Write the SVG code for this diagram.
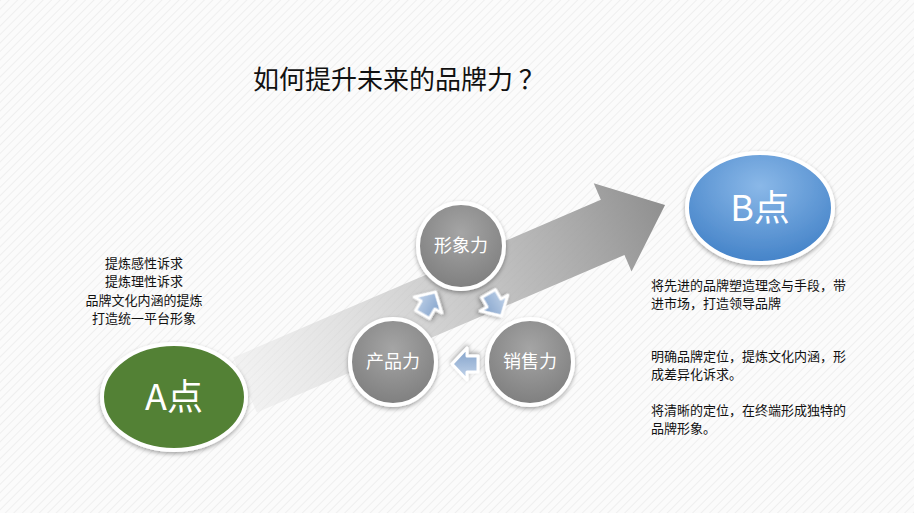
<svg xmlns="http://www.w3.org/2000/svg" width="914" height="513" viewBox="0 0 914 513">
<defs>
<pattern id="bg" width="6" height="6" patternUnits="userSpaceOnUse" patternTransform="rotate(-45)"><rect width="6" height="6" fill="#fbfbfb"/><rect width="6" height="1" fill="#efefef"/></pattern>
<linearGradient id="arr" x1="0" y1="0" x2="1" y2="0"><stop offset="0" stop-color="#e8e8e8" stop-opacity="0.5"/><stop offset="1" stop-color="#8f8f8f"/></linearGradient>
<radialGradient id="gc" cx="0.5" cy="0.35" r="0.7"><stop offset="0" stop-color="#a5a5a5"/><stop offset="1" stop-color="#7c7c7c"/></radialGradient>
<radialGradient id="bc" cx="0.5" cy="0.3" r="0.75"><stop offset="0" stop-color="#8ab8e8"/><stop offset="1" stop-color="#3f7fc6"/></radialGradient>
<linearGradient id="sa" x1="0" y1="0" x2="0" y2="1"><stop offset="0" stop-color="#c5d6ec"/><stop offset="1" stop-color="#7f9fc8"/></linearGradient>
<filter id="sh" x="-20%" y="-20%" width="140%" height="140%"><feDropShadow dx="0" dy="2" stdDeviation="2" flood-opacity="0.35"/></filter>
<path id="small" d="M-11,-8 L0,-8 L0,-16 L15,0 L0,16 L0,8 L-11,8 Z" fill="url(#sa)" stroke="#fff" stroke-width="3" stroke-linejoin="round"/>
</defs>
<style>
.t{font-family:"Noto Sans CJK SC","Liberation Sans",sans-serif;}
.c{fill:url(#gc);stroke:#fff;stroke-width:4;filter:url(#sh)}
.cl{fill:#fff;font-size:18px;text-anchor:middle}
.d{font-size:13px;fill:#111}
</style>
<rect width="914" height="513" fill="url(#bg)"/>
<text class="t" x="253" y="89" font-size="26" fill="#111">如何提升未来的品牌力 ？</text>
<g id="connectors">
<polygon transform="translate(245,385) rotate(-23.2)" points="0,-30 400,-30 400,-48 457,0 400,48 400,30 0,30" fill="url(#arr)"/>
<use href="#small" transform="translate(428,305) rotate(-60)" filter="url(#sh)"/>
<use href="#small" transform="translate(494,303) rotate(60)" filter="url(#sh)"/>
<use href="#small" transform="translate(467,364) rotate(180)" filter="url(#sh)"/>
</g>
<g id="nodeA"><ellipse cx="174" cy="397" rx="72" ry="53" fill="#538135" stroke="#fff" stroke-width="4" filter="url(#sh)"/><text class="t" x="174" y="410" font-size="36" fill="#fff" text-anchor="middle">A点</text></g>
<g id="nodeB"><ellipse cx="760" cy="208" rx="73" ry="55" fill="url(#bc)" stroke="#fff" stroke-width="4" filter="url(#sh)"/><text class="t" x="760" y="221" font-size="36" fill="#fff" text-anchor="middle">B点</text></g>
<g id="n1"><circle class="c" cx="461" cy="246" r="43"/><text class="t cl" x="461" y="252">形象力</text></g>
<g id="n2"><circle class="c" cx="393" cy="362" r="43"/><text class="t cl" x="393" y="368">产品力</text></g>
<g id="n3"><circle class="c" cx="530" cy="362" r="43"/><text class="t cl" x="530" y="368">销售力</text></g>
<g id="leftText" class="t d" text-anchor="middle">
<text x="144" y="268">提炼感性诉求</text><text x="144" y="286">提炼理性诉求</text><text x="144" y="305">品牌文化内涵的提炼</text><text x="144" y="323">打造统一平台形象</text>
</g>
<g id="rightText" class="t d">
<text x="651" y="290">将先进的品牌塑造理念与手段，带</text><text x="651" y="308">进市场，打造领导品牌</text>
<text x="651" y="361">明确品牌定位，提炼文化内涵，形</text><text x="651" y="379">成差异化诉求。</text>
<text x="651" y="415">将清晰的定位，在终端形成独特的</text><text x="651" y="433">品牌形象。</text>
</g>
</svg>
